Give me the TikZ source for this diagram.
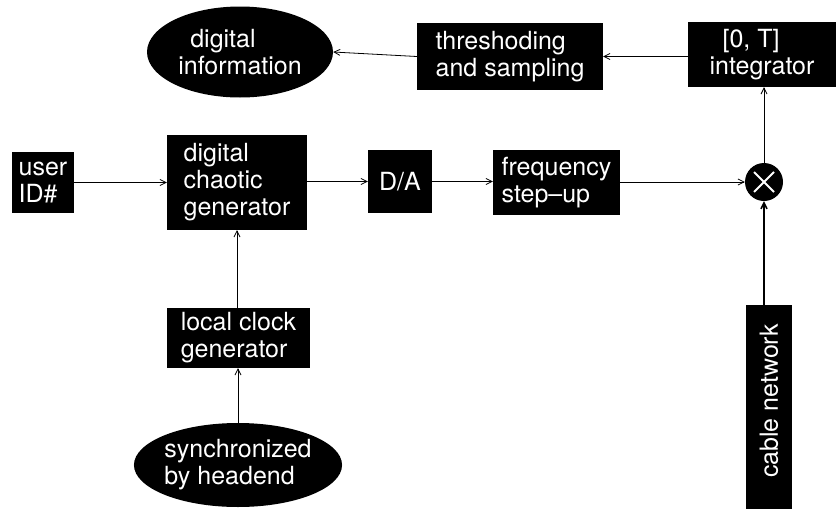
\documentclass[tikz,border=0pt]{standalone}
\usepackage{fontspec}
\setmainfont{TeX Gyre Heros}
\usetikzlibrary{shapes.geometric,arrows.meta}

\tikzset{
  blk/.style={fill=black, text=white, draw=none, inner sep=0pt, align=left,
              font=\fontsize{25}{27}\selectfont},
  box/.style={blk, rectangle},
  oval/.style={blk, ellipse},
  link/.style={line width=0.8pt, -{Straight Barb[length=6pt,width=6pt]}},
}

\begin{document}
\begin{tikzpicture}[x=1pt, y=-1pt]
  \useasboundingbox (0,0) rectangle (836,509);

  % receiver output chain (top row)
  \node[oval, minimum width=186, minimum height=91] (info) at (240,52)
    {\hspace{12pt}digital\\information};
  \node[box, minimum width=186, minimum height=67] (thresh) at (510,56.5)
    {threshoding\\and sampling};
  \node[box, minimum width=148, minimum height=65] (integ) at (762,54.5)
    {\hspace{13pt}[0, T]\\integrator};

  % chaotic signal generation (middle row)
  \node[box, minimum width=62, minimum height=61] (user) at (43,182.5)
    {user\\ID\#};
  \node[box, minimum width=140, minimum height=95] (chaos) at (237,182.5)
    {digital\\chaotic\\generator};
  \node[box, minimum width=64, minimum height=63] (da) at (400,181.5) {D/A};
  \node[box, minimum width=127, minimum height=65] (freq) at (556.5,182.5)
    {frequency\\step--up};
  \node[circle, fill=black, minimum size=38, inner sep=0pt] (mult) at (764,182) {};
  \draw[white, line width=2pt]
    ([shift={(-10,-10)}]mult.center) -- ([shift={(10,10)}]mult.center)
    ([shift={(-10,10)}]mult.center) -- ([shift={(10,-10)}]mult.center);

  % clock synchronisation (lower left)
  \node[box, minimum width=143, minimum height=60] (clock) at (238.5,338)
    {local clock\\generator};
  \node[oval, minimum width=200, minimum height=84] (sync) at (238,465)
    {synchronized\\by headend};

  % network input (lower right)
  \node[box, rotate=90, minimum width=204, minimum height=46] (cable) at (769,407)
    {\hspace{12pt}cable network};

  % connectors
  \draw[link] (user.east |- chaos.west) -- (chaos.west);
  \draw[link] (chaos.east |- da.west) -- (da.west);
  \draw[link] (da.east) -- (da.east -| freq.west);
  \draw[link] (freq.east |- mult.west) -- (mult.west);
  \draw[link] (mult.north) -- (mult.north |- integ.south);
  \draw[link] (integ.west |- thresh.east) -- (thresh.east);
  \draw[link] (thresh.west) -- (info.east);
  \draw[link] (clock.north -| chaos.south) -- (chaos.south);
  \draw[link] (sync.north) -- (sync.north |- clock.south);
  \draw[link, line width=1.5pt] (mult.south |- cable.east) -- (mult.south);
\end{tikzpicture}
\end{document}
